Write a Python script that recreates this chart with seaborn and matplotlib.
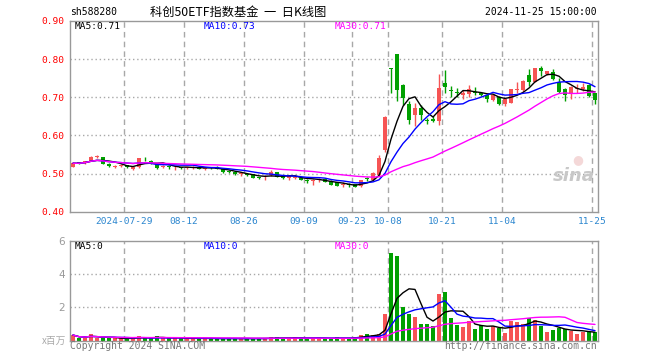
import numpy as np
import pandas as pd
import matplotlib
matplotlib.use("Agg")
import matplotlib.pyplot as plt
import seaborn as sns

# ---------------- data ----------------
open_ = [0.518, 0.528, 0.528, 0.534, 0.543, 0.543, 0.525, 0.518, 0.519, 0.522,
         0.512, 0.516, 0.538, 0.534, 0.526, 0.516, 0.519, 0.516, 0.517, 0.514,
         0.514, 0.516, 0.512, 0.515, 0.516, 0.513, 0.507, 0.505, 0.499, 0.500,
         0.498, 0.491, 0.490, 0.496, 0.503, 0.493, 0.489, 0.488, 0.489, 0.481,
         0.481, 0.484, 0.486, 0.480, 0.477, 0.471, 0.471, 0.472, 0.468, 0.486,
         0.483, 0.497, 0.561, 0.777, 0.814, 0.732, 0.682, 0.653, 0.671, 0.639,
         0.643, 0.638, 0.737, 0.718, 0.715, 0.706, 0.708, 0.714, 0.711, 0.706,
         0.694, 0.702, 0.683, 0.686, 0.719, 0.718, 0.759, 0.741, 0.776, 0.761,
         0.766, 0.741, 0.721, 0.708, 0.721, 0.722, 0.733, 0.711]
high = [0.529, 0.531, 0.534, 0.546, 0.548, 0.544, 0.527, 0.522, 0.524, 0.523,
        0.518, 0.541, 0.543, 0.536, 0.528, 0.523, 0.520, 0.521, 0.518, 0.518,
        0.519, 0.517, 0.518, 0.518, 0.519, 0.514, 0.509, 0.506, 0.503, 0.501,
        0.499, 0.492, 0.496, 0.510, 0.504, 0.494, 0.496, 0.495, 0.490, 0.485,
        0.487, 0.489, 0.488, 0.482, 0.479, 0.477, 0.476, 0.473, 0.484, 0.490,
        0.504, 0.548, 0.650, 0.777, 0.814, 0.735, 0.690, 0.686, 0.680, 0.645,
        0.650, 0.760, 0.772, 0.730, 0.725, 0.718, 0.732, 0.728, 0.714, 0.708,
        0.708, 0.704, 0.697, 0.722, 0.740, 0.745, 0.774, 0.777, 0.783, 0.770,
        0.775, 0.750, 0.724, 0.730, 0.735, 0.738, 0.735, 0.712]
low = [0.516, 0.524, 0.526, 0.533, 0.540, 0.525, 0.516, 0.514, 0.517, 0.514,
       0.510, 0.515, 0.533, 0.524, 0.513, 0.514, 0.513, 0.510, 0.513, 0.512,
       0.511, 0.511, 0.510, 0.512, 0.511, 0.501, 0.501, 0.497, 0.494, 0.494,
       0.488, 0.487, 0.484, 0.494, 0.490, 0.487, 0.484, 0.485, 0.482, 0.476,
       0.470, 0.479, 0.478, 0.469, 0.467, 0.466, 0.464, 0.465, 0.465, 0.480,
       0.482, 0.494, 0.556, 0.711, 0.689, 0.680, 0.630, 0.624, 0.640, 0.630,
       0.635, 0.628, 0.710, 0.700, 0.700, 0.695, 0.700, 0.705, 0.703, 0.687,
       0.690, 0.680, 0.678, 0.684, 0.712, 0.715, 0.730, 0.740, 0.755, 0.758,
       0.745, 0.711, 0.690, 0.695, 0.712, 0.716, 0.700, 0.683]
close = [0.527, 0.527, 0.532, 0.543, 0.544, 0.526, 0.519, 0.519, 0.522, 0.516,
         0.516, 0.540, 0.537, 0.527, 0.515, 0.521, 0.516, 0.517, 0.515, 0.516,
         0.516, 0.513, 0.515, 0.514, 0.513, 0.503, 0.503, 0.498, 0.500, 0.495,
         0.489, 0.488, 0.492, 0.505, 0.492, 0.488, 0.493, 0.492, 0.483, 0.480,
         0.483, 0.485, 0.479, 0.470, 0.468, 0.473, 0.470, 0.466, 0.483, 0.485,
         0.502, 0.540, 0.649, 0.775, 0.719, 0.699, 0.640, 0.673, 0.653, 0.637,
         0.638, 0.724, 0.726, 0.716, 0.711, 0.711, 0.722, 0.712, 0.706, 0.695,
         0.706, 0.683, 0.695, 0.721, 0.721, 0.743, 0.741, 0.776, 0.768, 0.769,
         0.748, 0.715, 0.706, 0.726, 0.722, 0.726, 0.704, 0.693]
volume = [0.34, 0.14, 0.18, 0.38, 0.18, 0.14, 0.14, 0.14, 0.14, 0.14,
          0.14, 0.28, 0.14, 0.14, 0.28, 0.14, 0.14, 0.14, 0.14, 0.14,
          0.14, 0.13, 0.13, 0.13, 0.13, 0.13, 0.13, 0.13, 0.13, 0.13,
          0.13, 0.13, 0.14, 0.20, 0.20, 0.14, 0.14, 0.20, 0.20, 0.14,
          0.14, 0.14, 0.14, 0.14, 0.20, 0.14, 0.14, 0.22, 0.36, 0.42,
          0.34, 0.42, 1.60, 5.26, 5.08, 2.02, 1.60, 1.42, 1.00, 1.00,
          0.88, 2.80, 2.92, 1.36, 0.94, 0.82, 1.18, 0.70, 0.94, 0.70,
          0.88, 0.76, 0.48, 1.20, 1.10, 1.03, 1.34, 1.24, 0.88, 0.51,
          0.64, 0.77, 0.70, 0.58, 0.39, 0.53, 0.53, 0.51]
tick_pos = [9, 19, 29, 39, 47, 53, 62, 72, 87]
tick_labels = ["2024-07-29", "08-12", "08-26", "09-09", "09-23",
               "10-08", "10-21", "11-04", "11-25"]
price_ticks = [0.40, 0.50, 0.60, 0.70, 0.80, 0.90]
vol_ticks = [2, 4, 6]

# ---------------- style ----------------
sns.set_style("white")
plt.rcParams['font.family'] = ['DejaVu Sans Mono', 'Noto Sans CJK SC']
RED = "#f65454"
GREEN = "#00a000"
GRID = "#a8a8a8"
SPINE = "#999999"
W, H = 660, 360

o = np.array(open_); h = np.array(high); l = np.array(low); c = np.array(close)
v = np.array(volume)
n = len(c)
x = np.arange(n)
up = c >= o
colors = np.where(up, RED, GREEN)

df = pd.DataFrame({"i": x, "close": c, "vol": v})
for k in (5, 10, 30):
    df[f"ma{k}"] = df["close"].rolling(k, min_periods=1).mean()
    df[f"vma{k}"] = df["vol"].rolling(k, min_periods=1).mean()

fig = plt.figure(figsize=(W / 100, H / 100), dpi=100)

def fx(px):
    return px / W

def fy(py):
    return 1 - py / H

axp = fig.add_axes([fx(70), fy(211.7), 528 / W, (211.7 - 21) / H])
axv = fig.add_axes([fx(70), fy(340.7), 528 / W, 100 / H])

for ax in (axp, axv):
    ax.set_xlim(-0.5, n - 0.5)
    for s in ax.spines.values():
        s.set_color(SPINE)
        s.set_linewidth(1)
    for p in tick_pos:
        ax.axvline(p - 0.5, color=GRID, lw=1, ls=(0, (4, 3)), zorder=0)
    ax.tick_params(length=0)

axp.set_ylim(0.40, 0.90)
for yv in price_ticks[1:-1]:
    axp.axhline(yv, color=GRID, lw=1, ls=(0, (1, 2)), zorder=0)

axp.vlines(x, l, h, colors=colors, lw=1, zorder=2)
body_bot = np.minimum(o, c)
body_h = np.maximum(np.abs(c - o), 0.0022)
axp.bar(x, body_h, bottom=body_bot, width=0.72, color=colors, linewidth=0, zorder=3)

sns.lineplot(data=df, x="i", y="ma5", ax=axp, color="black", lw=1, zorder=4, legend=False)
sns.lineplot(data=df, x="i", y="ma10", ax=axp, color="#0000ff", lw=1, zorder=4, legend=False)
sns.lineplot(data=df, x="i", y="ma30", ax=axp, color="#ff00ff", lw=1, zorder=4, legend=False)

axp.set_yticks(price_ticks)
axp.set_yticklabels([f"{t:.2f}" for t in price_ticks], color="#ff0000", fontsize=6.8)
axp.set_xticks([p - 0.5 for p in tick_pos])
axp.set_xticklabels(tick_labels, color="#2b86cf", fontsize=6.8)
axp.tick_params(axis="x", pad=4)
axp.tick_params(axis="y", pad=4)
axp.set_xlabel(""); axp.set_ylabel("")

axv.set_ylim(0, 6)
for yv in (2, 4):
    axv.axhline(yv, color=GRID, lw=1, ls=(0, (1, 2)), zorder=0)
axv.bar(x, v, width=0.78, color=colors, linewidth=0, zorder=2)
sns.lineplot(data=df, x="i", y="vma5", ax=axv, color="black", lw=1, zorder=4, legend=False)
sns.lineplot(data=df, x="i", y="vma10", ax=axv, color="#0000ff", lw=1, zorder=4, legend=False)
sns.lineplot(data=df, x="i", y="vma30", ax=axv, color="#ff00ff", lw=1, zorder=4, legend=False)
axv.set_yticks(vol_ticks)
axv.set_yticklabels([str(t) for t in vol_ticks], color="#9a9a9a", fontsize=7.5,
                    family="DejaVu Sans")
axv.set_xticks([])
axv.set_xlabel(""); axv.set_ylabel("")

# ---------------- texts ----------------
mono = "DejaVu Sans Mono"
fig.text(fx(70), fy(12), "sh588280", fontsize=7, color="black", family=mono, va="center")
fig.text(fx(150), fy(12), "科创50ETF指数基金  一  日K线图", fontsize=8.8, color="black",
         family=["Noto Sans CJK SC", "DejaVu Sans"], va="center")
fig.text(fx(597), fy(12), "2024-11-25 15:00:00", fontsize=7, color="black",
         family=mono, va="center", ha="right")

ma5_t = f"MA5:{df['ma5'].iloc[-1]:.2f}"
ma10_t = f"MA10:{df['ma10'].iloc[-1]:.2f}"
ma30_t = f"MA30:{df['ma30'].iloc[-1]:.2f}"
fig.text(fx(75), fy(26.5), ma5_t, fontsize=6.8, color="black", family=mono, va="center")
fig.text(fx(204), fy(26.5), ma10_t, fontsize=6.8, color="#0000ff", family=mono, va="center")
fig.text(fx(335), fy(26.5), ma30_t, fontsize=6.8, color="#ff00ff", family=mono, va="center")

fig.text(fx(75), fy(246.5), "MA5:0", fontsize=6.8, color="black", family=mono, va="center")
fig.text(fx(204), fy(246.5), "MA10:0", fontsize=6.8, color="#0000ff", family=mono, va="center")
fig.text(fx(335), fy(246.5), "MA30:0", fontsize=6.8, color="#ff00ff", family=mono, va="center")

fig.text(fx(66), fy(341), "x百万", fontsize=7, color="#aaaaaa",
         family=["Noto Sans CJK SC", "DejaVu Sans"], va="center", ha="right")
fig.text(fx(70), fy(346), "Copyright 2024 SINA.COM", fontsize=7, color="#777777",
         family=mono, va="center")
fig.text(fx(597), fy(346), "http://finance.sina.com.cn", fontsize=7, color="#777777",
         family=mono, va="center", ha="right")

fig.text(fx(574), fy(176), "sina", fontsize=13, color="#c8c8c8", style="italic",
         weight="bold", family="DejaVu Sans", va="center", ha="center", zorder=1)
fig.text(fx(578), fy(160), "●", fontsize=9, color="#f0c8c8", family="DejaVu Sans",
         va="center", ha="center", alpha=0.7)

fig.savefig("out.png", dpi=100)
